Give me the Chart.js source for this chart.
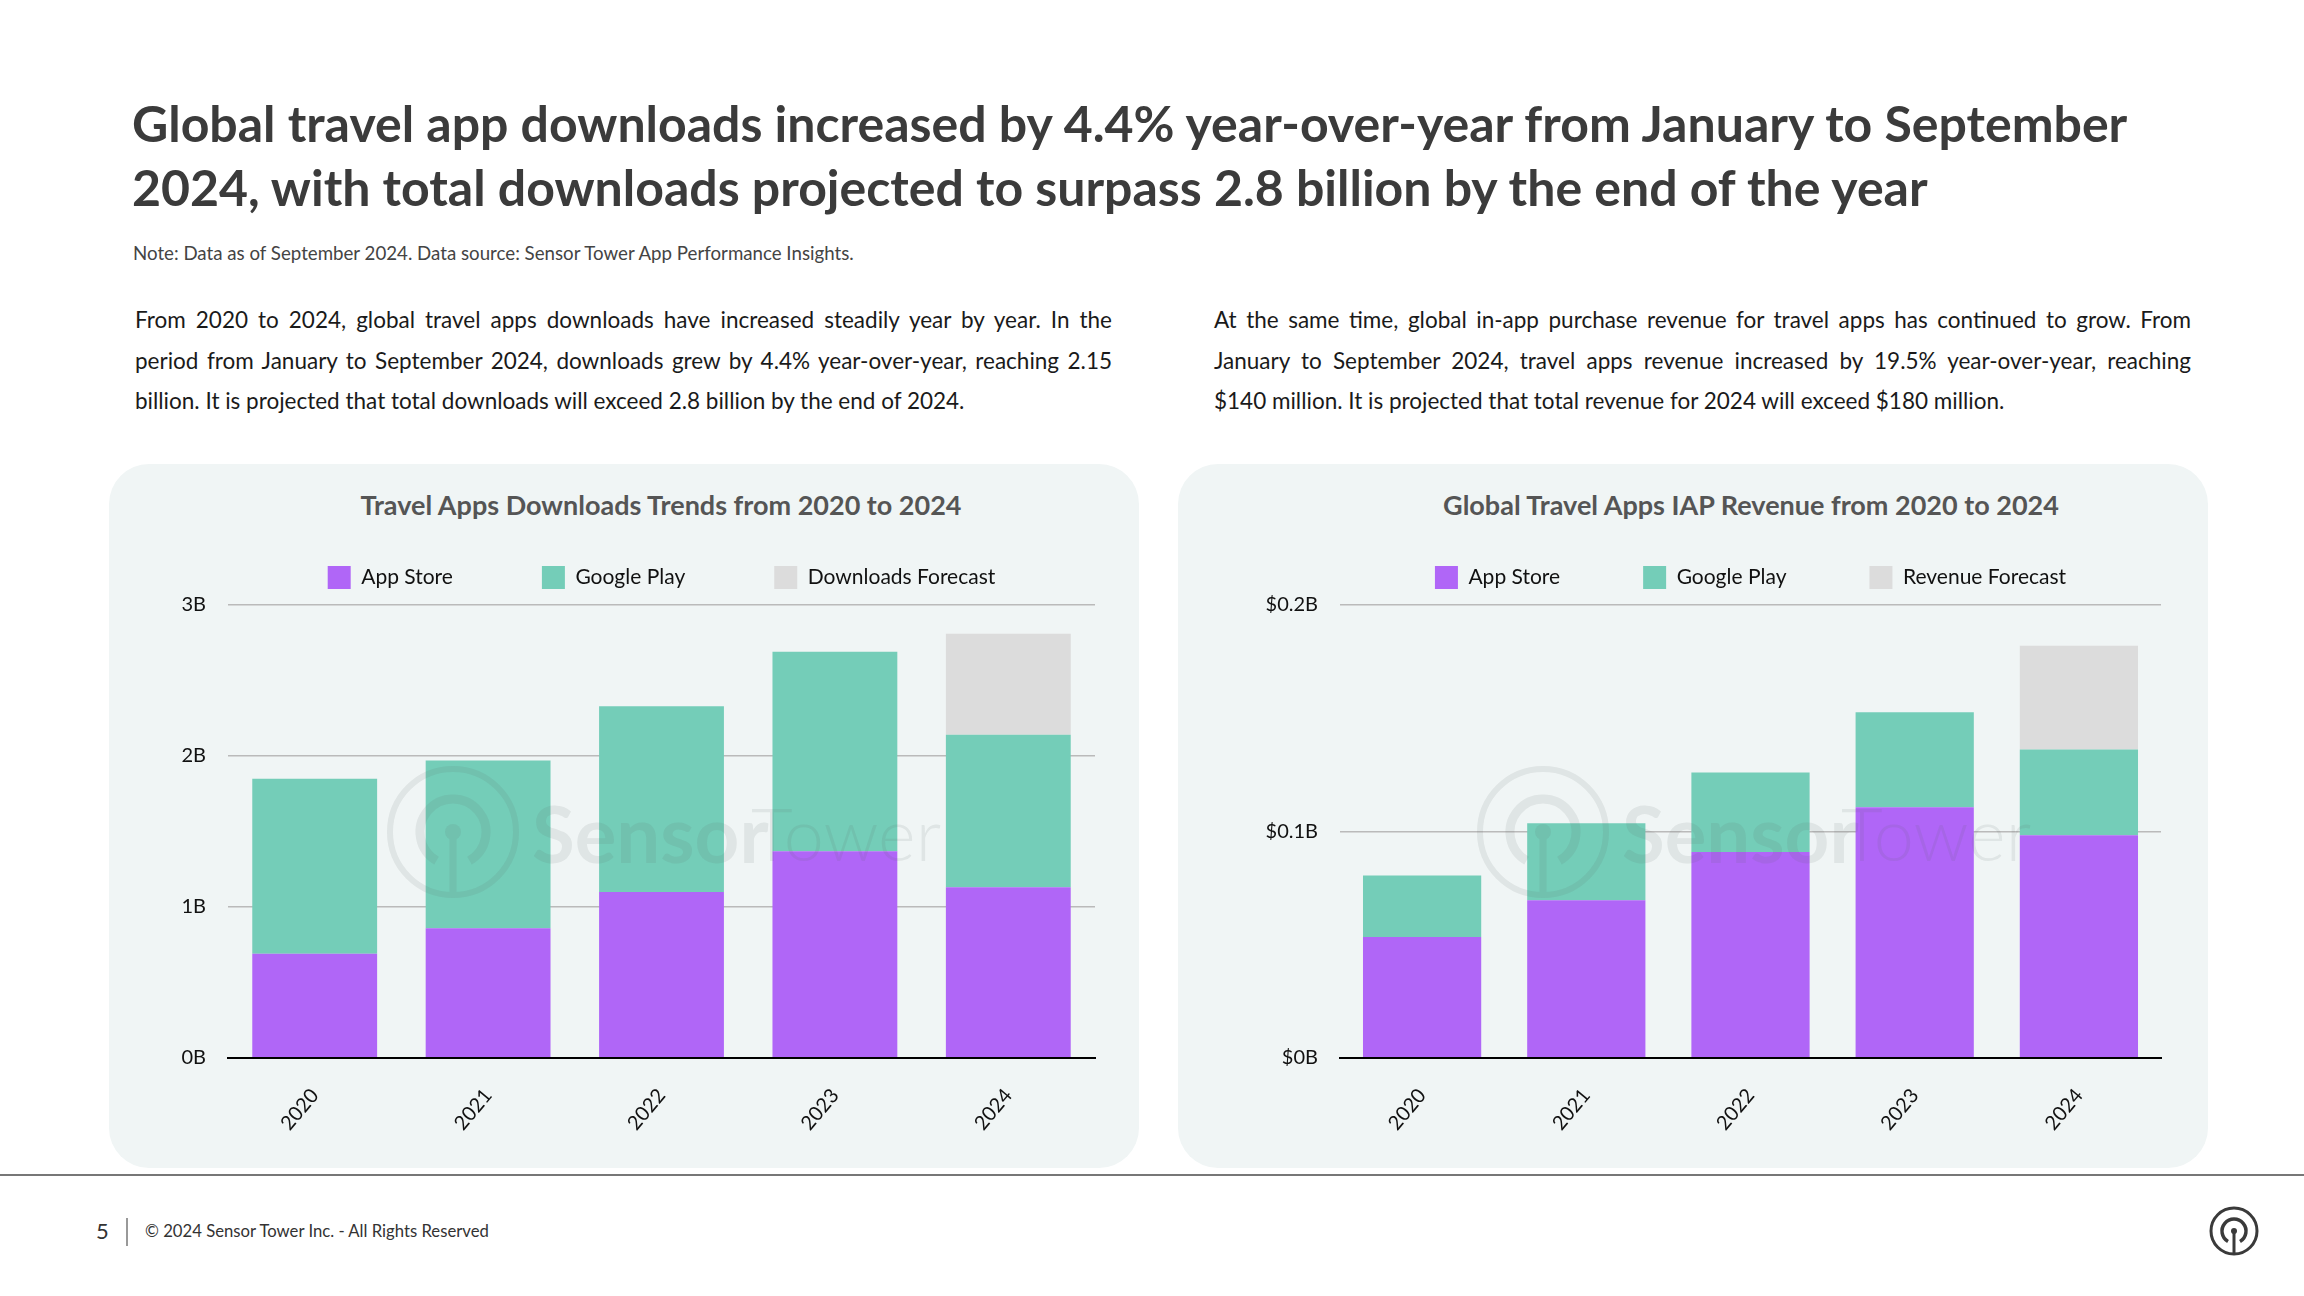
<!DOCTYPE html>
<html>
<head>
<meta charset="utf-8">
<script src="https://cdn.jsdelivr.net/npm/chart.js@4.4.1/dist/chart.umd.min.js"></script>
<style>
  body { margin:0; width:2304px; height:1296px; position:relative; background:#fff; font-family:Lato, sans-serif; overflow:hidden; }
  .abs { position:absolute; }
  #headline { left:132px; top:91px; font-size:50px; line-height:64px; font-weight:700; color:#3b3b3b; white-space:nowrap; }
  #note { left:133px; top:242px; font-size:18.7px; line-height:22px; color:#444; }
  .para { top:300px; width:977px; font-size:22.5px; line-height:40.5px; color:#1a1a1a; }
  .para div { text-align:justify; text-align-last:justify; }
  .para div.last { text-align-last:left; }
  .panel { top:464px; width:1030px; height:704px; background:#f0f5f5; border-radius:40px; }
  .ptitle { top:488px; font-size:27px; line-height:34px; font-weight:700; color:#555; white-space:nowrap; transform:translateX(-50%); }
  canvas.abs { top:464px; }
  .wm { top:762px; pointer-events:none; opacity:0.11; color:#5b6664; white-space:nowrap; }
  .wm svg { position:absolute; left:0; top:0; }
  .wm span { position:absolute; top:26px; font-size:78px; line-height:90px; }
  #rule { left:0; top:1174px; width:2304px; height:2px; background:#777; }
  #pageno { left:96px; top:1218px; font-size:22px; line-height:26px; color:#333; }
  #vbar { left:126px; top:1218px; width:2px; height:28px; background:#999; }
  #copy { left:145px; top:1220px; font-size:16.7px; line-height:22px; color:#333; }
</style>
</head>
<body>
<div id="headline" class="abs">Global travel app downloads increased by 4.4% year-over-year from January to September<br>2024, with total downloads projected to surpass 2.8 billion by the end of the year</div>
<div id="note" class="abs">Note: Data as of September 2024. Data source: Sensor Tower App Performance Insights.</div>

<div class="abs para" style="left:135px">
  <div>From 2020 to 2024, global travel apps downloads have increased steadily year by year. In the</div>
  <div>period from January to September 2024, downloads grew by 4.4% year-over-year, reaching 2.15</div>
  <div class="last">billion. It is projected that total downloads will exceed 2.8 billion by the end of 2024.</div>
</div>
<div class="abs para" style="left:1214px">
  <div>At the same time, global in-app purchase revenue for travel apps has continued to grow. From</div>
  <div>January to September 2024, travel apps revenue increased by 19.5% year-over-year, reaching</div>
  <div class="last">$140 million. It is projected that total revenue for 2024 will exceed $180 million.</div>
</div>

<div class="abs panel" style="left:109px"></div>
<div class="abs panel" style="left:1178px"></div>
<div class="abs ptitle" style="left:661px">Travel Apps Downloads Trends from 2020 to 2024</div>
<div class="abs ptitle" style="left:1751px">Global Travel Apps IAP Revenue from 2020 to 2024</div>

<canvas id="dlChart" class="abs" style="left:109px" width="1030" height="704"></canvas>
<canvas id="revChart" class="abs" style="left:1178px" width="1030" height="704"></canvas>

<div class="abs wm" style="left:383px">
  <svg width="140" height="140" viewBox="0 0 140 140" fill="none" stroke="currentColor">
    <circle cx="70" cy="70" r="63" stroke-width="6"/>
    <path d="M53.5 98.6 A33 33 0 1 1 86.5 98.6" stroke-width="9"/>
    <line x1="70" y1="70" x2="70" y2="132" stroke-width="7"/>
    <circle cx="70" cy="70" r="8" fill="currentColor" stroke="none"/>
  </svg>
  <span style="left:149px;font-weight:700">Sensor</span><span style="left:368px;font-weight:300;font-size:72px">Tower</span>
</div>
<div class="abs wm" style="left:1473px">
  <svg width="140" height="140" viewBox="0 0 140 140" fill="none" stroke="currentColor">
    <circle cx="70" cy="70" r="63" stroke-width="6"/>
    <path d="M53.5 98.6 A33 33 0 1 1 86.5 98.6" stroke-width="9"/>
    <line x1="70" y1="70" x2="70" y2="132" stroke-width="7"/>
    <circle cx="70" cy="70" r="8" fill="currentColor" stroke="none"/>
  </svg>
  <span style="left:149px;font-weight:700">Sensor</span><span style="left:368px;font-weight:300;font-size:72px">Tower</span>
</div>

<div id="rule" class="abs"></div>
<div id="pageno" class="abs">5</div>
<div id="vbar" class="abs"></div>
<div id="copy" class="abs">© 2024 Sensor Tower Inc. - All Rights Reserved</div>
<svg class="abs" style="left:2209px;top:1206px" width="50" height="50" viewBox="0 0 50 50" fill="none" stroke="#3a3a3a">
  <circle cx="25" cy="25" r="23" stroke-width="3"/>
  <path d="M19 35.4 A12 12 0 1 1 31 35.4" stroke-width="3.5"/>
  <line x1="25" y1="25" x2="25" y2="47" stroke-width="3"/>
  <circle cx="25" cy="25" r="3" fill="#3a3a3a" stroke="none"/>
</svg>

<script>
'use strict';
//////////////// data

const years = ['2020', '2021', '2022', '2023', '2024'];

// downloads, billions
const dlAppStore = [0.69, 0.86, 1.10, 1.37, 1.13];
const dlGooglePlay = [1.16, 1.11, 1.23, 1.32, 1.01];
const dlForecast = [null, null, null, null, 0.67];
const dlTicks = [0, 1, 2, 3];

// IAP revenue, billions USD
const revAppStore = [0.0534, 0.0696, 0.0909, 0.1107, 0.0983];
const revGooglePlay = [0.0272, 0.0340, 0.0352, 0.0419, 0.0379];
const revForecast = [null, null, null, null, 0.0458];
const revTicks = [0, 0.1, 0.2];

const purple = '#b066f7';
const green = '#74cdb8';
const grey = '#dcdcdc';

Chart.defaults.font.family = 'Lato, sans-serif';

// small empty box between the legend and the plot
const legendGapPlugin = {
  id: 'legendGap',
  beforeInit(chart) {
    Chart.layouts.addBox(chart, {
      position: 'top',
      weight: 0,
      fullSize: false,
      options: {},
      top: 0, left: 0, right: 0, bottom: 0, width: 0, height: 0,
      update(maxWidth) { this.width = maxWidth; this.height = 6; },
      isHorizontal() { return true; },
      draw() {}
    });
  }
};

/////////////////// chart builder
function makeChart(id, forecastName, appStore, googlePlay, forecast, ticks, fmt, axisWidth, padRight, legendGap) {
  let ctx = document.getElementById(id).getContext('2d');
  return new Chart(ctx, {
    type: 'bar',
    plugins: [legendGapPlugin],
    data: {
      labels: years,
      datasets: [
        { label: 'App Store', data: appStore, backgroundColor: purple },
        { label: 'Google Play', data: googlePlay, backgroundColor: green },
        { label: forecastName, data: forecast, backgroundColor: grey }
      ]
    },
    options: {
      responsive: false,
      animation: false,
      layout: { padding: { top: 102 - legendGap, right: padRight, left: 0, bottom: 0 } },
      datasets: { bar: { categoryPercentage: 0.72, barPercentage: 1, borderWidth: 0 } },
      plugins: {
        legend: {
          fullSize: false,
          labels: { boxWidth: 23, boxHeight: 23, padding: legendGap, color: '#111', font: { size: 21 } }
        },
        tooltip: { enabled: false }
      },
      scales: {
        x: {
          stacked: true,
          grid: { display: false },
          border: { color: '#000', width: 2, z: 1 },
          ticks: { color: '#111', font: { size: 20 }, minRotation: 50, maxRotation: 50, padding: 18 },
          afterFit: (s) => { s.height = 110; }
        },
        y: {
          stacked: true,
          min: ticks[0],
          max: ticks[ticks.length - 1],
          border: { display: false },
          grid: { color: '#bababa', lineWidth: 1.5, drawTicks: false },
          ticks: { stepSize: ticks[1] - ticks[0], color: '#111', font: { size: 20 }, padding: 22, callback: fmt },
          afterFit: (s) => { s.width = axisWidth; }
        }
      }
    }
  });
}

makeChart('dlChart', 'Downloads Forecast', dlAppStore, dlGooglePlay, dlForecast, dlTicks,
  (v) => v + 'B', 119, 44, 89);
makeChart('revChart', 'Revenue Forecast', revAppStore, revGooglePlay, revForecast, revTicks,
  (v) => '$' + (+v.toFixed(1)) + 'B', 162, 47, 83);
</script>
</body>
</html>
